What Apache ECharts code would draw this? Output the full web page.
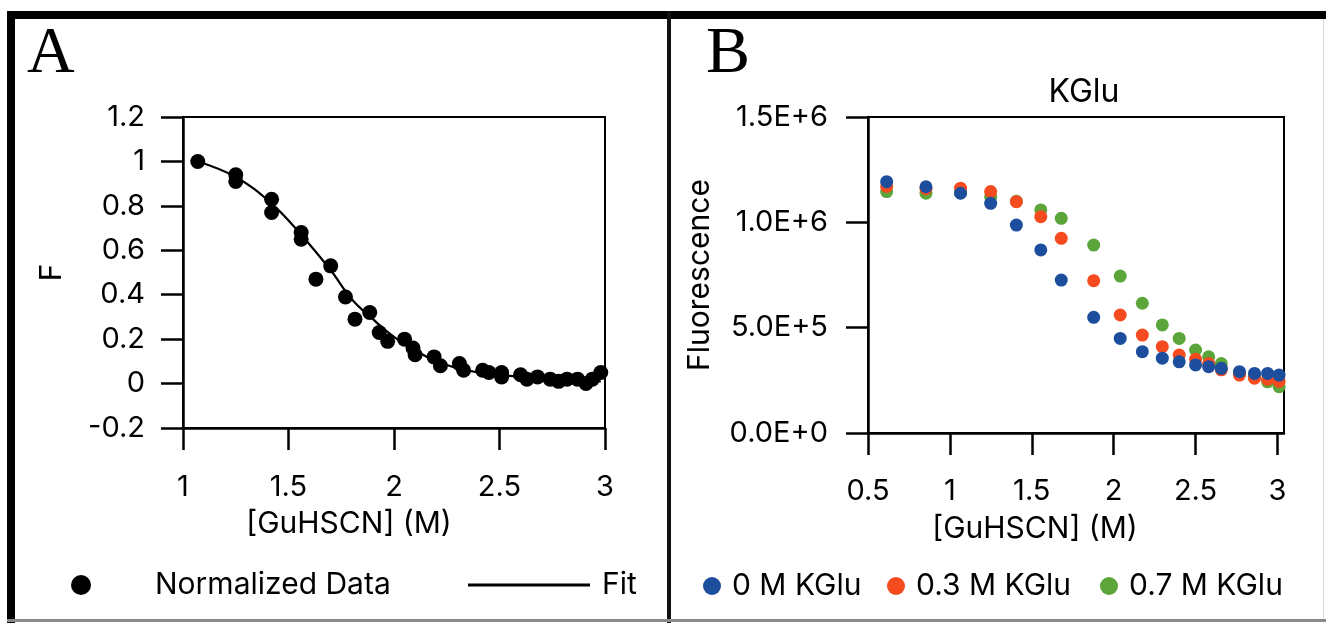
<!DOCTYPE html>
<html>
<head>
<meta charset="utf-8">
<script src="https://cdn.jsdelivr.net/npm/echarts@6/dist/echarts.min.js"></script>
<style>
html,body{margin:0;padding:0;background:#fff;}
#chart{width:1326px;height:623px;}
</style>
</head>
<body>
<div id="chart"></div>
<script>
// ---------- Panel A data ----------
const normX = [1.07, 1.25, 1.25, 1.42, 1.42, 1.56, 1.56, 1.63, 1.70, 1.77, 1.815, 1.885, 1.93, 1.97, 2.05, 2.09, 2.10, 2.19, 2.22, 2.31, 2.33, 2.42, 2.45, 2.51, 2.51, 2.60, 2.63, 2.68, 2.74, 2.78, 2.82, 2.87, 2.91, 2.94, 2.98];
const normY = [1.00, 0.94, 0.91, 0.83, 0.77, 0.68, 0.65, 0.47, 0.53, 0.39, 0.29, 0.32, 0.23, 0.19, 0.20, 0.16, 0.13, 0.12, 0.08, 0.09, 0.06, 0.06, 0.05, 0.05, 0.03, 0.04, 0.02, 0.03, 0.02, 0.01, 0.02, 0.02, 0.00, 0.02, 0.05];
const fitX = [1.07, 1.25, 1.42, 1.56, 1.70, 1.80, 1.90, 2.00, 2.10, 2.20, 2.30, 2.40, 2.50, 2.60, 2.70, 2.80, 2.98];
const fitY = [1.00, 0.93, 0.81, 0.67, 0.51, 0.38, 0.29, 0.21, 0.15, 0.10, 0.07, 0.05, 0.04, 0.03, 0.02, 0.02, 0.01];
const aXTicks = [1, 1.5, 2, 2.5, 3];

// ---------- Panel B data ----------
const gX = [0.614, 0.854, 1.065, 1.249, 1.406, 1.555, 1.68, 1.878, 2.04, 2.175, 2.297, 2.40, 2.50, 2.58, 2.657, 2.768, 2.86, 2.94, 3.01];
const kglu0 = [1.193e6, 1.169e6, 1.138e6, 1.090e6, 0.987e6, 0.869e6, 0.726e6, 0.549e6, 0.449e6, 0.386e6, 0.355e6, 0.338e6, 0.323e6, 0.315e6, 0.307e6, 0.291e6, 0.283e6, 0.283e6, 0.275e6];
const kglu03 = [1.170e6, 1.160e6, 1.162e6, 1.146e6, 1.098e6, 1.027e6, 0.924e6, 0.723e6, 0.560e6, 0.465e6, 0.410e6, 0.370e6, 0.350e6, 0.330e6, 0.300e6, 0.275e6, 0.260e6, 0.255e6, 0.245e6];
const kglu07 = [1.146e6, 1.138e6, 1.140e6, 1.120e6, 1.100e6, 1.059e6, 1.019e6, 0.892e6, 0.745e6, 0.616e6, 0.513e6, 0.449e6, 0.394e6, 0.362e6, 0.330e6, 0.285e6, 0.265e6, 0.243e6, 0.220e6];
const bXTicks = [0.5, 1, 1.5, 2, 2.5, 3];
const seriesNamesB = ['0 M KGlu', '0.3 M KGlu', '0.7 M KGlu'];

const FONT = 'Inter';
const pairs = (xs, ys) => xs.map((x, i) => [x, ys[i]]);
const sciFmt = v => {
  if (v === 0) return '0.0E+0';
  const e = Math.floor(Math.log10(v) + 1e-9);
  const m = v / Math.pow(10, e);
  return m.toFixed(1) + 'E+' + e;
};

const axisCommon = {
  axisLine: {show: true, onZero: false, lineStyle: {color: '#000', width: 2.5}},
  axisTick: {show: true, inside: false, length: 22, lineStyle: {color: '#000', width: 2.5}},
  splitLine: {show: false},
  axisLabel: {color: '#000', fontFamily: FONT, fontSize: 29},
  nameTextStyle: {color: '#000', fontFamily: FONT, fontSize: 30}
};
const legendText = {fontFamily: FONT, fontSize: 30, color: '#000'};

const chart = echarts.init(document.getElementById('chart'), null, {renderer: 'canvas'});
chart.setOption({
  backgroundColor: '#fff',
  animation: false,
  title: [
    {text: 'A', left: 22, top: 17, textStyle: {fontFamily: 'Liberation Serif', fontWeight: 'normal', fontSize: 66, color: '#000'}},
    {text: 'B', left: 701, top: 17, textStyle: {fontFamily: 'Liberation Serif', fontWeight: 'normal', fontSize: 66, color: '#000'}},
    {text: 'KGlu', left: 1079, top: 71, textAlign: 'center', textStyle: {fontFamily: FONT, fontWeight: 'normal', fontSize: 32, color: '#000'}}
  ],
  grid: [
    {left: 183, top: 117, width: 422, height: 311, show: true, borderColor: '#000', borderWidth: 2, backgroundColor: 'transparent'},
    {left: 868, top: 117, width: 416, height: 316, show: true, borderColor: '#000', borderWidth: 2, backgroundColor: 'transparent'}
  ],
  xAxis: [
    Object.assign({}, axisCommon, {
      type: 'value', gridIndex: 0, min: 1, max: 3, interval: 0.5,
      name: '[GuHSCN] (M)', nameLocation: 'middle', nameGap: 81,
      nameTextStyle: Object.assign({}, axisCommon.nameTextStyle, {padding: [0, 90, 0, 0]}),
      axisLabel: Object.assign({}, axisCommon.axisLabel, {margin: 45, customValues: aXTicks}),
      axisTick: Object.assign({}, axisCommon.axisTick, {customValues: aXTicks})
    }),
    Object.assign({}, axisCommon, {
      type: 'value', gridIndex: 1, min: 0.5, max: 3.04,
      name: '[GuHSCN] (M)', nameLocation: 'middle', nameGap: 81,
      nameTextStyle: Object.assign({}, axisCommon.nameTextStyle, {padding: [0, 82, 0, 0]}),
      axisLabel: Object.assign({}, axisCommon.axisLabel, {margin: 44, customValues: bXTicks}),
      axisTick: Object.assign({}, axisCommon.axisTick, {customValues: bXTicks})
    })
  ],
  yAxis: [
    Object.assign({}, axisCommon, {
      type: 'value', gridIndex: 0, min: -0.2, max: 1.2, interval: 0.2,
      name: 'F', nameLocation: 'middle', nameGap: 116, nameRotate: 90,
      axisLabel: Object.assign({}, axisCommon.axisLabel, {margin: 38})
    }),
    Object.assign({}, axisCommon, {
      type: 'value', gridIndex: 1, min: 0, max: 1.5e6, interval: 5e5,
      name: 'Fluorescence', nameLocation: 'middle', nameGap: 153, nameRotate: 90,
      axisLabel: Object.assign({}, axisCommon.axisLabel, {margin: 40, formatter: sciFmt})
    })
  ],
  legend: [
    {data: ['Normalized Data'], left: 66, top: 565, itemWidth: 20, itemHeight: 20,
     textStyle: Object.assign({}, legendText, {padding: [0, 0, 0, 59]})},
    {data: [{name: 'Fit', icon: 'rect'}], left: 463, top: 565, itemWidth: 122, itemHeight: 3,
     itemStyle: {color: '#000'},
     textStyle: Object.assign({}, legendText, {padding: [0, 0, 0, 7]})},
    {data: [seriesNamesB[0]], left: 698, top: 566, itemWidth: 18, itemHeight: 18,
     textStyle: Object.assign({}, legendText, {padding: [0, 0, 0, 6]})},
    {data: [seriesNamesB[1]], left: 882, top: 566, itemWidth: 18, itemHeight: 18,
     textStyle: Object.assign({}, legendText, {padding: [0, 0, 0, 6]})},
    {data: [seriesNamesB[2]], left: 1095, top: 566, itemWidth: 18, itemHeight: 18,
     textStyle: Object.assign({}, legendText, {padding: [0, 0, 0, 6]})}
  ],
  series: [
    {name: 'Fit', type: 'line', xAxisIndex: 0, yAxisIndex: 0, data: pairs(fitX, fitY), smooth: 0.4,
     symbol: 'none', lineStyle: {color: '#000', width: 2.2}, itemStyle: {color: '#000'}, z: 2},
    {name: 'Normalized Data', type: 'scatter', xAxisIndex: 0, yAxisIndex: 0, data: pairs(normX, normY),
     symbol: 'circle', symbolSize: 15, itemStyle: {color: '#000', opacity: 1}, z: 3},
    {name: '0.7 M KGlu', type: 'scatter', xAxisIndex: 1, yAxisIndex: 1, data: pairs(gX, kglu07),
     symbolSize: 13, itemStyle: {color: '#5ba53a', opacity: 1}, z: 3},
    {name: '0.3 M KGlu', type: 'scatter', xAxisIndex: 1, yAxisIndex: 1, data: pairs(gX, kglu03),
     symbolSize: 13, itemStyle: {color: '#f64b1f', opacity: 1}, z: 4},
    {name: '0 M KGlu', type: 'scatter', xAxisIndex: 1, yAxisIndex: 1, data: pairs(gX, kglu0),
     symbolSize: 13, itemStyle: {color: '#1c4e9d', opacity: 1}, z: 5}
  ],
  graphic: [
    {type: 'rect', shape: {x: 7, y: 11, width: 1319, height: 8}, style: {fill: '#000'}, silent: true},
    {type: 'rect', shape: {x: 7, y: 11, width: 8, height: 612}, style: {fill: '#000'}, silent: true},
    {type: 'rect', shape: {x: 667, y: 11, width: 4, height: 612}, style: {fill: '#111'}, silent: true},
    {type: 'rect', shape: {x: 7, y: 619, width: 1319, height: 3}, style: {fill: '#8a8a8a'}, silent: true},
    {type: 'rect', shape: {x: 1323, y: 19, width: 1, height: 600}, style: {fill: '#d8d8d8'}, silent: true}
  ]
});
</script>
</body>
</html>
